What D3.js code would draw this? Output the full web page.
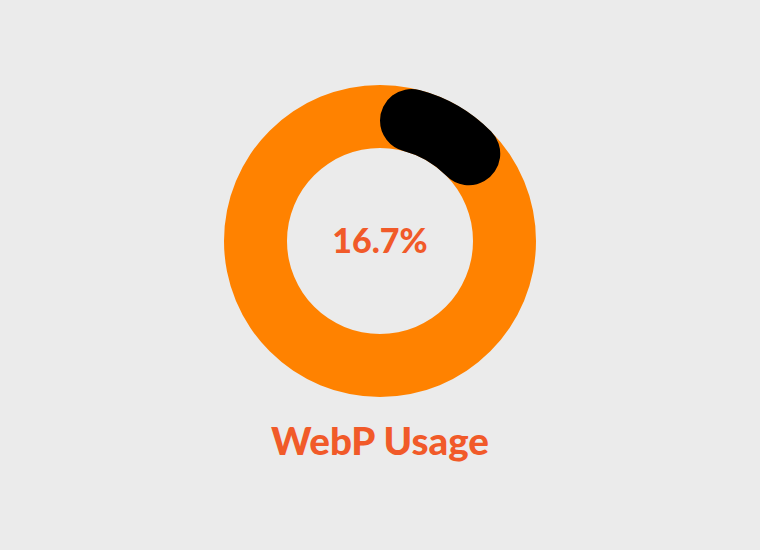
<!DOCTYPE html>
<html><head><meta charset="utf-8">
<script src="https://cdn.jsdelivr.net/npm/d3@7"></script>
<style>html,body{margin:0;padding:0;background:#ebebeb;}svg{display:block;}</style>
</head><body>
<script>
const title = "WebP Usage";
const categories = ["WebP", "Other"];
const values = [16.7, 83.3];
const labelText = "16.7%";

const W = 760, H = 550, cx = 380, cy = 241, rOuter = 156, rInner = 93;
const svg = d3.select("body").append("svg").attr("width", W).attr("height", H);
svg.append("rect").attr("width", W).attr("height", H).attr("fill", "#ebebeb");
const g = svg.append("g").attr("transform", `translate(${cx},${cy})`);

const total = d3.sum(values);
const angle = d3.scaleLinear().domain([0, total]).range([0, 2 * Math.PI]);

const ring = d3.arc().innerRadius(rInner).outerRadius(rOuter).startAngle(0).endAngle(2 * Math.PI);
g.append("path").attr("d", ring()).attr("fill", "#ff8200");

const fg = d3.arc().innerRadius(rInner).outerRadius(rOuter).cornerRadius((rOuter - rInner) / 2);
g.append("path").attr("d", fg({startAngle: 0, endAngle: angle(values[0])})).attr("fill", "#000000");

g.append("text").attr("text-anchor", "middle").attr("y", 12)
  .attr("font-family", "Lato, 'Open Sans', sans-serif").attr("font-weight", 900)
  .attr("font-size", 34).attr("fill", "#f15a29").text(labelText);

svg.append("text").attr("x", cx).attr("y", 455).attr("text-anchor", "middle")
  .attr("font-family", "Lato, 'Open Sans', sans-serif").attr("font-weight", 900)
  .attr("font-size", 38.5).attr("fill", "#f15a29").text(title);
</script>
</body></html>
